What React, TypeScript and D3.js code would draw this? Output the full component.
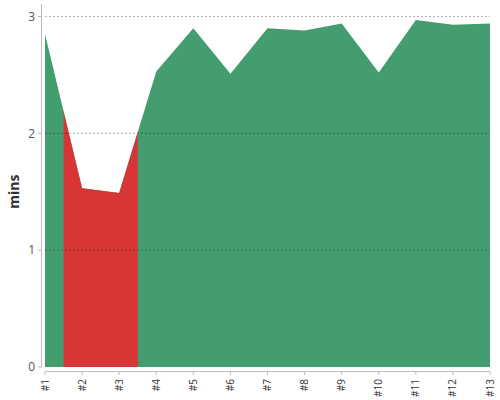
import React from "react";
import * as d3 from "d3";

const categories = ["#1", "#2", "#3", "#4", "#5", "#6", "#7", "#8", "#9", "#10", "#11", "#12", "#13"];
const values = [2.85, 1.53, 1.49, 2.53, 2.9, 2.51, 2.9, 2.88, 2.94, 2.52, 2.97, 2.93, 2.94];
const status = ["ok", "bad", "bad", "ok", "ok", "ok", "ok", "ok", "ok", "ok", "ok", "ok", "ok"];
const yTicks = [0, 1, 2, 3];
const yLabel = "mins";

const GREEN = "#449d6e";
const RED = "#d83636";
const FONT = "'Open Sans', sans-serif";

export default function App() {
  const W = 500, H = 400;
  const x = d3.scalePoint<string>().domain(categories).range([45, 490]);
  const y = d3.scaleLinear().domain([0, 3]).range([367, 16.5]);
  const step = x.step();
  const data = categories.map((c, i) => ({ c, v: values[i], s: status[i] }));
  const area = d3
    .area<{ c: string; v: number }>()
    .x((d) => x(d.c) as number)
    .y0(y(0))
    .y1((d) => y(d.v));
  const pathD = area(data) || "";
  const x0 = 45, x1 = 490;

  // group consecutive "bad" points into runs
  const runs: { l: number; r: number }[] = [];
  let prevBad = false;
  data.forEach((d) => {
    const cx = x(d.c) as number;
    const l = Math.max(x0, cx - step / 2);
    const r = Math.min(x1, cx + step / 2);
    if (d.s === "bad") {
      if (prevBad) runs[runs.length - 1].r = r;
      else runs.push({ l, r });
    }
    prevBad = d.s === "bad";
  });

  return (
    <svg width={W} height={H} style={{ position: "absolute", left: 0, top: 0, fontFamily: FONT }}>
      <defs>
        {runs.map((run, i) => (
          <clipPath id={`bad${i}`} key={i}>
            <rect x={run.l} y={0} width={run.r - run.l} height={H} />
          </clipPath>
        ))}
      </defs>
      <path d={pathD} fill={GREEN} />
      {runs.map((run, i) => (
        <path key={i} d={pathD} fill={RED} clipPath={`url(#bad${i})`} />
      ))}
      {yTicks.filter((t) => t > 0).map((t) => (
        <line key={t} x1={x0} x2={x1} y1={y(t)} y2={y(t)} stroke="#000" strokeOpacity={0.3} strokeDasharray="2,2" strokeWidth={1} />
      ))}
      {/* y axis */}
      <line x1={41.5} x2={41.5} y1={4} y2={y(0)} stroke="#bbb" strokeWidth={1} />
      {yTicks.map((t) => (
        <g key={t}>
          <line x1={38} x2={41.5} y1={y(t)} y2={y(t)} stroke="#bbb" />
          <text x={35} y={y(t)} dy="0.35em" textAnchor="end" fontSize={12} fill="#555">
            {t}
          </text>
        </g>
      ))}
      <text
        transform={`translate(19,${(y(0) + y(3)) / 2}) rotate(-90)`}
        textAnchor="middle"
        fontSize={14}
        fontWeight="bold"
        fill="#333"
      >
        {yLabel}
      </text>
      {/* x axis */}
      <line x1={x0} x2={x1} y1={371.5} y2={371.5} stroke="#bbb" />
      {categories.map((c) => {
        const cx = x(c) as number;
        return (
          <g key={c}>
            <line x1={cx} x2={cx} y1={371.5} y2={375} stroke="#bbb" />
            <text
              transform={`translate(${cx},379) rotate(-90)`}
              textAnchor="end"
              dy="0.35em"
              fontSize={10}
              fill="#333"
            >
              {c}
            </text>
          </g>
        );
      })}
    </svg>
  );
}
